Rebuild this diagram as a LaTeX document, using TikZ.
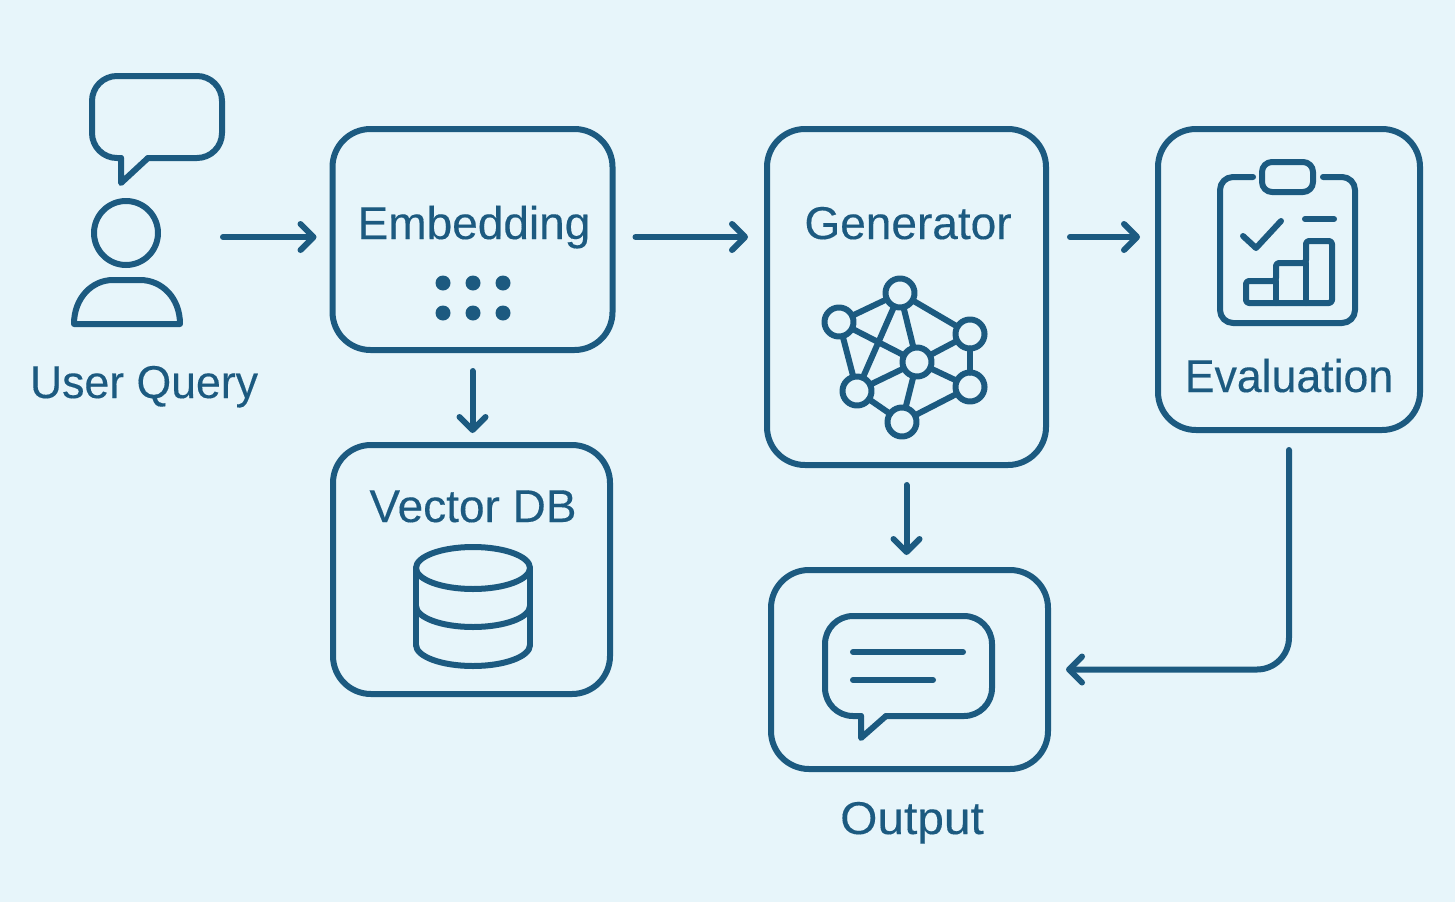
\documentclass[tikz,border=0pt]{standalone}
\usepackage{fontspec}
\setmainfont{Liberation Sans}[BoldFont={Liberation Sans},BoldFeatures={FakeBold=0.25}]
\usepackage{xcolor}
\usepackage{tikz}
\usetikzlibrary{positioning,arrows.meta}
\definecolor{inkblue}{HTML}{1C5A80}
\definecolor{paleblue}{HTML}{E7F5FA}

\begin{document}
\begin{tikzpicture}[x=1pt,y=-1pt,line width=6pt,color=inkblue,line cap=round,line join=round,
  flow/.style={-{Straight Barb[length=13pt,width=26pt,round]}},
  stagebox/.style={draw,rounded corners=38pt,outer sep=0pt,inner sep=0pt},
  stagetext/.style={font=\fontsize{46}{50}\selectfont\bfseries\addfontfeature{FakeStretch=#1},inner sep=0pt,anchor=base},
  stagetext/.default=1,
  netnode/.style={circle,draw,fill=paleblue,minimum size=29pt,inner sep=0pt,outer sep=0pt}]
\useasboundingbox (0,0) rectangle (1455,902);
\fill[paleblue] (0,0) rectangle (1455,902);

\node (userbox) [minimum width=110pt,inner sep=0pt] at (127,237) {};
\node (embed) [stagebox,minimum width=280pt,minimum height=221pt] at (472.5,239.5) {};
\node (vec) [stagebox,minimum width=277pt,minimum height=249pt] at (471.5,569.5) {};
\node (gen) [stagebox,minimum width=279pt,minimum height=336pt] at (906.5,297) {};
\node (evalbox) [stagebox,minimum width=262pt,minimum height=301pt] at (1289,279.5) {};
\node (outbox) [stagebox,minimum width=277pt,minimum height=199pt] at (909.5,669.5) {};

\node (userlab) [stagetext=0.97] at (144,398) {User Query};
\node (embedlab) [stagetext] at (474,239) {Embedding};
\node (veclab) [stagetext] at (473,522) {Vector DB};
\node (genlab) [stagetext] at (908,239) {Generator};
\node (evallab) [stagetext=0.97] at (1289,392) {Evaluation};
\node (outlab) [stagetext=1.04] at (912,834) {Output};

\draw[flow,shorten <=38pt,shorten >=16pt] (userbox.east) -- (userbox.east -| embed.west);
\draw[flow,shorten <=23pt,shorten >=19pt] (embed.east |- userbox) -- (gen.west |- userbox);
\draw[flow,shorten <=24pt,shorten >=18pt] (gen.east |- userbox) -- (evalbox.west |- userbox);
\draw[flow,shorten <=21pt,shorten >=12pt] (embed.south) -- (vec.north -| embed.south);
\draw[flow,shorten <=20pt,shorten >=15pt] (gen.south) -- (outbox.north -| gen.south);
\draw[flow,rounded corners=32pt,shorten <=20pt,shorten >=18pt] (evalbox.south) |- (outbox.east);

\draw[rounded corners=25pt] (148,158) -- (222,158) -- (222,76) -- (92,76) -- (92,158) -- (121,158);
\draw (121,158) -- (121,183) -- (148,158);
\draw (126,233) circle [radius=32pt];
\draw (74,324) .. controls (74,298) and (92,280) .. (113,280) -- (140,280)
  .. controls (162,280) and (180,298) .. (180,324) -- cycle;

\foreach \px in {443,473,503}
  \foreach \py in {283,313}
    \fill (\px,\py) circle [radius=7.5pt];

\draw (416,568) arc [start angle=180,end angle=540,x radius=57pt,y radius=21pt];
\draw (416,606) arc [start angle=180,end angle=360,x radius=57pt,y radius=21pt];
\draw (416,645) arc [start angle=180,end angle=360,x radius=57pt,y radius=21pt];
\draw (416,568) -- (416,645) (530,568) -- (530,645);

\node (ntop) [netnode] at (900,293) {};
\node (nleft) [netnode] at (839,322) {};
\node (nright) [netnode] at (970,334) {};
\node (nmid) [netnode] at (917,362) {};
\node (nrlow) [netnode] at (970,387) {};
\node (nllow) [netnode] at (857,391) {};
\node (nbot) [netnode] at (902,422) {};
\foreach \a/\b in {ntop/nleft,ntop/nright,ntop/nmid,ntop/nllow,nleft/nmid,nleft/nllow,nright/nmid,
  nright/nrlow,nmid/nrlow,nmid/nllow,nmid/nbot,nllow/nbot,nbot/nrlow}
  \draw (\a) -- (\b);

\draw[rounded corners=13pt] (1253,177) -- (1220,177) -- (1220,323) -- (1355,323) -- (1355,177) -- (1323,177);
\draw[rounded corners=10pt] (1262,162) rectangle (1313,192);
\draw (1243,236) -- (1256,248) -- (1281,221);
\draw (1305,219) -- (1334,219);
\draw[rounded corners=3pt] (1246,303) -- (1246,281) -- (1276,281) -- (1276,263) -- (1306,263)
  -- (1306,241) -- (1332,241) -- (1332,303) -- cycle;
\draw (1276,281) -- (1276,303) (1306,263) -- (1306,303);

\draw[rounded corners=28pt] (886,716) -- (992,716) -- (992,616) -- (825,616) -- (825,716) -- (861,716);
\draw (861,716) -- (861,738) -- (886,716);
\draw (853,652) -- (963,652);
\draw (853,680) -- (933,680);
\end{tikzpicture}
\end{document}
